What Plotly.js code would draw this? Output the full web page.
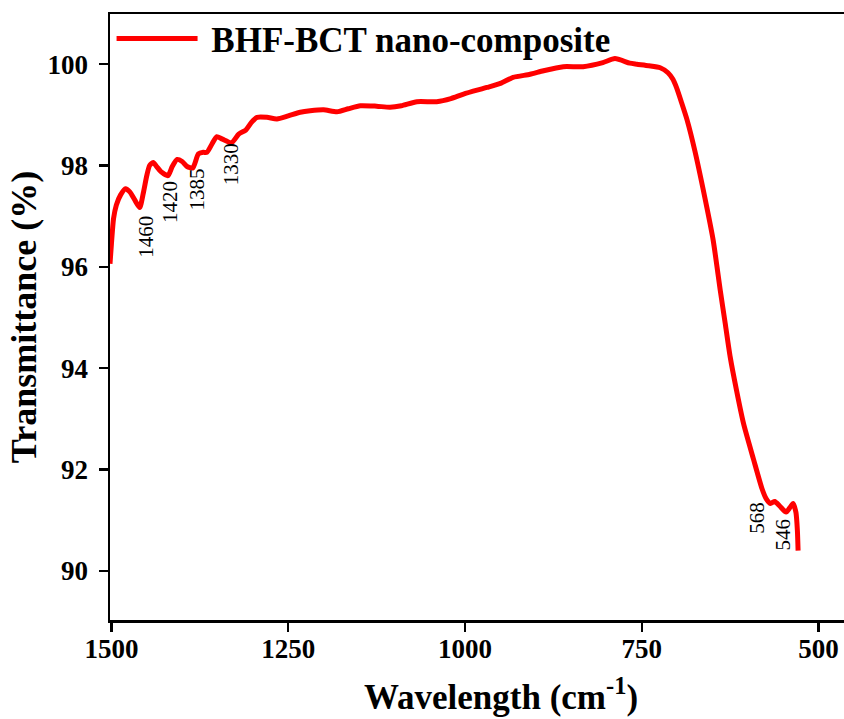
<!DOCTYPE html>
<html>
<head>
<meta charset="utf-8">
<script src="https://cdn.plot.ly/plotly-3.0.1.min.js"></script>
<style>
  html, body { margin: 0; padding: 0; background: #fff; overflow: hidden; }
  #chart { width: 902px; height: 719px; }
</style>
</head>
<body>
<div id="chart"></div>
<script>
// FTIR spectrum of the BHF-BCT nano-composite
const wavenumber = [
  1502, 1500, 1497, 1493, 1487, 1480, 1474, 1467, 1460, 1455,
  1450, 1446, 1441, 1436, 1430, 1420, 1414, 1407, 1400, 1393,
  1385, 1377, 1370, 1365, 1358, 1351, 1343, 1330, 1320, 1310,
  1302, 1294, 1280, 1266, 1250, 1233, 1219, 1200, 1181, 1165,
  1148, 1125, 1106, 1090, 1068, 1040, 1020, 1002, 969, 950,
  932, 908, 889, 861, 833, 805, 788, 767, 757, 740,
  724, 713, 706, 701, 694, 686, 675, 658, 649, 639,
  632, 625, 616, 606, 592, 580, 574, 568, 562, 555,
  546, 540, 536, 532, 530, 529
];
const transmittance = [
  96.06, 96.45, 96.95, 97.22, 97.42, 97.54, 97.48, 97.32, 97.17, 97.45,
  97.80, 98.00, 98.06, 97.98, 97.88, 97.80, 97.98, 98.12, 98.08, 97.98,
  97.95, 98.23, 98.26, 98.26, 98.42, 98.57, 98.52, 98.45, 98.62, 98.70,
  98.85, 98.95, 98.95, 98.92, 98.98, 99.05, 99.08, 99.10, 99.06, 99.12,
  99.18, 99.17, 99.15, 99.18, 99.26, 99.26, 99.32, 99.41, 99.54, 99.62,
  99.74, 99.80, 99.87, 99.95, 99.95, 100.03, 100.11, 100.02, 100.00, 99.97,
  99.93, 99.83, 99.70, 99.54, 99.25, 98.90, 98.29, 97.17, 96.52, 95.53,
  94.88, 94.22, 93.56, 92.90, 92.20, 91.62, 91.42, 91.33, 91.37, 91.28,
  91.16, 91.26, 91.33, 91.15, 90.80, 90.40
];

// Band positions marked on the spectrum (cm-1)
const bandLabels = [1460, 1420, 1385, 1330, 568, 546];
const bandLabelY = [96.59, 97.28, 97.52, 98.02, 91.04, 90.72];
const bandShiftX = [6, 2, 4, 0, -13, -3];

const xTicks = [1500, 1250, 1000, 750, 500];
const yTicks = [90, 92, 94, 96, 98, 100];

const serif = 'Liberation Serif, serif';

const trace = {
  x: wavenumber,
  y: transmittance,
  type: 'scatter',
  mode: 'lines',
  name: '\u00A0BHF-BCT nano-composite',
  line: { color: '#ff0000', width: 5, shape: 'spline', smoothing: 0.6 }
};

const annotations = bandLabels.map((b, i) => ({
  x: b,
  y: bandLabelY[i],
  xref: 'x',
  yref: 'y',
  text: String(b),
  showarrow: false,
  textangle: -90,
  xshift: bandShiftX[i],
  font: { family: serif, size: 21, color: '#000' }
}));

const layout = {
  width: 902,
  height: 719,
  margin: { l: 110, r: 10, t: 13, b: 99 },
  paper_bgcolor: '#fff',
  plot_bgcolor: '#fff',
  font: { family: serif, color: '#000' },
  showlegend: true,
  legend: {
    x: 0.002, y: 1.006, xanchor: 'left', yanchor: 'top',
    bgcolor: 'rgba(0,0,0,0)',
    itemwidth: 81,
    font: { family: serif, size: 35, color: '#000', weight: 'bold' }
  },
  xaxis: {
    range: [1502, 396.2],
    tickvals: xTicks,
    ticktext: xTicks.map(String),
    ticks: 'outside', ticklen: 9, tickwidth: 2.5, tickcolor: '#000',
    ticklabelstandoff: -6,
    showline: true, linewidth: 2.5, linecolor: '#000', mirror: true,
    showgrid: false, zeroline: false,
    tickfont: { family: serif, size: 27, color: '#000', weight: 'bold' },
    title: {
      text: 'Wavelength (cm<sup>-1</sup>)',
      font: { family: serif, size: 35, color: '#000', weight: 'bold' },
      standoff: 22
    }
  },
  yaxis: {
    range: [89.03, 100.99],
    tickvals: yTicks,
    ticktext: yTicks.map(String),
    ticks: 'outside', ticklen: 9, tickwidth: 2.5, tickcolor: '#000',
    ticklabelstandoff: 5,
    showline: true, linewidth: 2.5, linecolor: '#000', mirror: true,
    showgrid: false, zeroline: false,
    tickfont: { family: serif, size: 27, color: '#000', weight: 'bold' },
    title: {
      text: 'Transmittance (%)',
      font: { family: serif, size: 36, color: '#000', weight: 'bold' },
      standoff: 0
    }
  },
  annotations: annotations
};

Plotly.newPlot('chart', [trace], layout, { displayModeBar: false, staticPlot: true });
</script>
</body>
</html>
